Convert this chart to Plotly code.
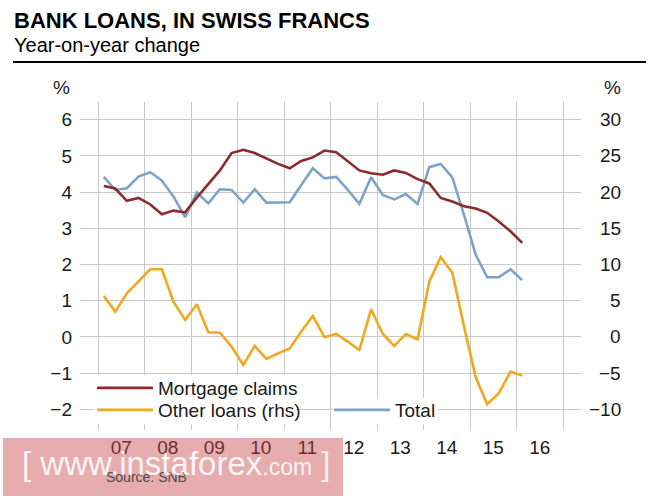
import pandas as pd
import plotly.graph_objects as go

# quarterly observations, Q1 2007 .. Q1 2016
quarters = pd.date_range("2007-01-01", periods=37, freq="QS") + pd.Timedelta(days=45)

mortgage = [4.17, 4.10, 3.76, 3.84, 3.66, 3.39, 3.49, 3.44, 3.85, 4.22,
            4.60, 5.08, 5.17, 5.08, 4.93, 4.78, 4.66, 4.86, 4.96, 5.15,
            5.10, 4.86, 4.60, 4.52, 4.48, 4.60, 4.53, 4.36, 4.24, 3.84,
            3.74, 3.61, 3.55, 3.43, 3.19, 2.92, 2.60]
total = [4.42, 4.06, 4.11, 4.43, 4.55, 4.32, 3.88, 3.31, 3.99, 3.69,
         4.08, 4.06, 3.71, 4.08, 3.71, 3.71, 3.72, 4.20, 4.66, 4.38,
         4.42, 4.06, 3.68, 4.41, 3.92, 3.80, 3.95, 3.67, 4.69, 4.78,
         4.41, 3.37, 2.27, 1.65, 1.65, 1.87, 1.57]
other_rhs = [5.66, 3.50, 6.03, 7.64, 9.35, 9.35, 4.88, 2.35, 4.51, 0.64,
             0.59, -1.33, -3.87, -1.24, -3.04, -2.26, -1.57, 0.74, 2.90, -0.05,
             0.41, -0.65, -1.80, 3.82, 0.41, -1.24, 0.41, -0.32, 7.64, 11.0,
             8.88, 1.43, -5.57, -9.30, -7.78, -4.79, -5.34]

left_ticks = [-2, -1, 0, 1, 2, 3, 4, 5, 6]
right_ticks = [-10, -5, 0, 5, 10, 15, 20, 25, 30]

RED = "#8e2a2e"
ORANGE = "#f2a81d"
BLUE = "#7da4c8"
GRID = "#c8c8c8"
FONT = "Liberation Sans"

# plot area in pixels: x 80..581, y 102..430
L, R, T, B = 80, 84, 102, 68
PW, PH = 665 - L - R, 498 - T - B


def px_x(x):
    return (x - L) / PW


def px_y(y):
    return (498 - B - y) / PH


def legend_box(x, y):
    return dict(x=px_x(x), y=px_y(y), xanchor="left", yanchor="middle",
                bgcolor="rgba(0,0,0,0)", borderwidth=0, itemwidth=56,
                font=dict(size=19, color="#1a1a1a"))


fig = go.Figure()

fig.add_trace(go.Scatter(x=quarters, y=total, name="Total", mode="lines",
                         line=dict(color=BLUE, width=2.6), legend="legend3"))
fig.add_trace(go.Scatter(x=quarters, y=mortgage, name="Mortgage claims", mode="lines",
                         line=dict(color=RED, width=2.6), legend="legend"))
fig.add_trace(go.Scatter(x=quarters, y=other_rhs, name="Other loans (rhs)", mode="lines",
                         line=dict(color=ORANGE, width=2.6), yaxis="y2",
                         legend="legend2"))

fig.update_layout(
    width=665, height=498,
    margin=dict(l=L, r=R, t=T, b=B),
    paper_bgcolor="white", plot_bgcolor="white",
    font=dict(family=FONT, size=19, color="#1a1a1a"),
    xaxis=dict(type="date", range=["2006-08-12", "2017-05-22"],
               tick0="2007-01-01", dtick="M12", tickformat="%y",
               ticklabelmode="period", ticks="", ticklabelstandoff=4,
               showgrid=True, gridcolor=GRID, gridwidth=1.3,
               zeroline=False, showline=False),
    yaxis=dict(range=[-2.57, 6.49], tickvals=left_ticks, ticks="",
               ticklabelstandoff=7,
               showgrid=True, gridcolor=GRID, gridwidth=1.3,
               zeroline=False, showline=False),
    yaxis2=dict(range=[-12.85, 32.45], overlaying="y", side="right",
                showgrid=False, zeroline=False, showticklabels=False),
    legend=legend_box(92, 388),
    legend2=legend_box(92, 410),
    legend3=legend_box(329, 410),
    showlegend=True,
)

ann = [
    dict(text="<b>BANK LOANS, IN SWISS FRANCS</b>", x=px_x(12), y=px_y(20),
         xanchor="left", yanchor="middle", font=dict(size=22, color="black")),
    dict(text="Year-on-year change", x=px_x(12), y=px_y(45),
         xanchor="left", yanchor="middle", font=dict(size=20, color="black")),
    dict(text="%", x=px_x(72), y=px_y(88), xanchor="right", yanchor="middle"),
    dict(text="%", x=px_x(623), y=px_y(88), xanchor="right", yanchor="middle"),
    dict(text="Source: SNB", x=px_x(104), y=px_y(477), xanchor="left",
         yanchor="middle", font=dict(size=14, color="#4a4a4a")),
    dict(text="[ www.instaforex<span style='font-size:23px'>.com</span> ]",
         x=px_x(20), y=px_y(463), xanchor="left", yanchor="middle",
         font=dict(size=33, color="rgba(255,255,255,0.9)")),
]
for v in right_ticks:
    ann.append(dict(text=f"{v}".replace("-", "\u2212"), x=px_x(623), y=v,
                    yref="y2", xanchor="right", yanchor="middle"))
for a in ann:
    a.setdefault("xref", "paper")
    a.setdefault("yref", "paper")
    a["showarrow"] = False
fig.update_layout(annotations=ann)

# rule under the heading
fig.add_shape(type="line", xref="paper", yref="paper",
              x0=px_x(13), x1=px_x(646), y0=px_y(62), y1=px_y(62),
              line=dict(color="black", width=2))
# white patches behind the legend entries (they hide the grid)
for x0, x1, y0, y1 in [(95, 296, 375, 424), (333, 438, 398, 424)]:
    fig.add_shape(type="rect", xref="paper", yref="paper", layer="above",
                  x0=px_x(x0), x1=px_x(x1), y0=px_y(y1), y1=px_y(y0),
                  fillcolor="white", line=dict(width=0))
# watermark band
fig.add_shape(type="rect", xref="paper", yref="paper", layer="above",
              x0=px_x(3), x1=px_x(343), y0=px_y(496), y1=px_y(438),
              fillcolor="rgba(200,70,75,0.45)", line=dict(width=0))

# page has a default 8px body margin; drop it so the figure sits at 0,0
fig.write_html("out.html", config={"displayModeBar": False},
               post_script="document.body.style.margin='0';")
